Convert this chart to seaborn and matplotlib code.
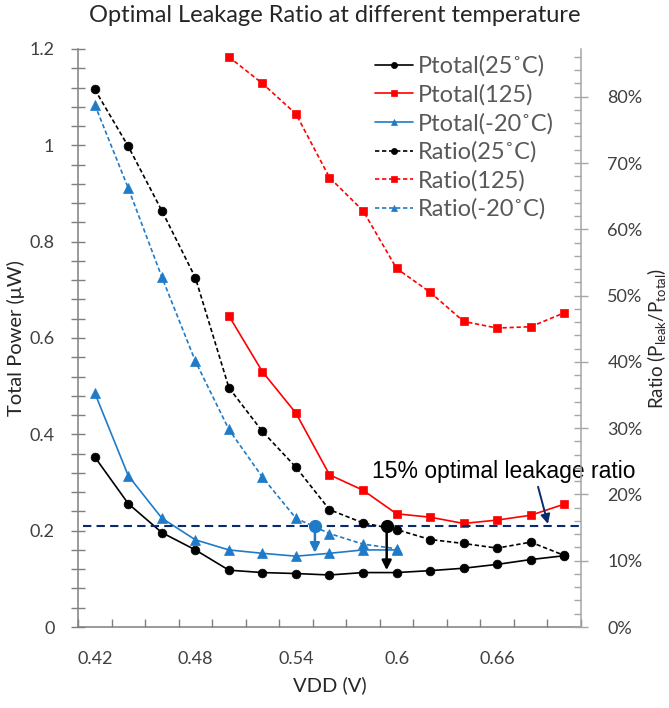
import numpy as np
import pandas as pd
import matplotlib
matplotlib.use("Agg")
import matplotlib.pyplot as plt
import seaborn as sns
from matplotlib.ticker import MultipleLocator, FuncFormatter

# ---------------- data ----------------
vdd = [0.42, 0.44, 0.46, 0.48, 0.50, 0.52, 0.54, 0.56, 0.58, 0.60, 0.62, 0.64, 0.66, 0.68, 0.70]
vdd_125 = [0.50, 0.52, 0.54, 0.56, 0.58, 0.60, 0.62, 0.64, 0.66, 0.68, 0.70]
vdd_m20 = [0.42, 0.44, 0.46, 0.48, 0.50, 0.52, 0.54, 0.56, 0.58, 0.60]

ptotal_25 = [0.353, 0.256, 0.196, 0.160, 0.118, 0.113, 0.111, 0.108, 0.113, 0.113, 0.117, 0.122, 0.130, 0.140, 0.148]
ptotal_125 = [0.646, 0.530, 0.444, 0.316, 0.284, 0.235, 0.228, 0.215, 0.222, 0.232, 0.255]
ptotal_m20 = [0.486, 0.314, 0.226, 0.181, 0.160, 0.153, 0.147, 0.153, 0.160, 0.160]

ratio_25 = [0.811, 0.725, 0.628, 0.527, 0.361, 0.295, 0.241, 0.177, 0.157, 0.147, 0.132, 0.126, 0.119, 0.128, 0.108]
ratio_125 = [0.860, 0.820, 0.774, 0.678, 0.628, 0.541, 0.505, 0.461, 0.451, 0.453, 0.474]
ratio_m20 = [0.788, 0.662, 0.528, 0.401, 0.298, 0.226, 0.164, 0.141, 0.125, 0.118]

x_tick_vals = [0.42, 0.48, 0.54, 0.60, 0.66]
x_tick_labels = ["0.42", "0.48", "0.54", "0.6", "0.66"]

optimal_level = 0.21           # Total power level of the 15% line
optimal_vdd = [0.5513, 0.5941]  # blue (-20C) and black (25C) optimum points
optimal_power = [0.154, 0.118]  # arrow tips

# ---------------- style ----------------
sns.set_theme(style="white")
plt.rcParams["font.family"] = ["Lato", "DejaVu Sans"]

BLACK = "#000000"
RED = "#FF0000"
BLUE = "#1F7BC8"
NAVY = "#0B2A6B"
TXT = "#262626"
TICK = "#404040"

fig = plt.figure(figsize=(6.69, 7.08), dpi=100)
ax = fig.add_axes([78 / 669, 1 - 627 / 708, (581 - 78) / 669, (627 - 49) / 708])
ax2 = ax.twinx()

lw = 1.2
ms_c = 6.3
ms_s = 6.4
ms_t = 6.6
dash = (0, (2.6, 1.6))

def draw(axis, x, y, color, marker, ms, ls, label):
    sns.lineplot(x=x, y=y, ax=axis, color=color, marker=marker, markersize=ms,
                 markeredgecolor=color, markerfacecolor=color, markeredgewidth=0.5,
                 linewidth=lw, linestyle=ls, label=label, errorbar=None,
                 legend=False, sort=False)

draw(ax, vdd, ptotal_25, BLACK, "o", ms_c, "-", "Ptotal(25˚C)")
draw(ax, vdd_125, ptotal_125, RED, "s", ms_s, "-", "Ptotal(125)")
draw(ax, vdd_m20, ptotal_m20, BLUE, "^", ms_t, "-", "Ptotal(-20˚C)")
draw(ax2, vdd, ratio_25, BLACK, "o", ms_c, dash, "Ratio(25˚C)")
draw(ax2, vdd_125, ratio_125, RED, "s", ms_s, dash, "Ratio(125)")
draw(ax2, vdd_m20, ratio_m20, BLUE, "^", ms_t, dash, "Ratio(-20˚C)")

for a in (ax, ax2):
    lg = a.get_legend()
    if lg is not None:
        lg.remove()

# ---------------- axes ----------------
ax.set_xlim(0.41, 0.71)
ax.set_ylim(0, 1.2)
ax2.set_ylim(0, 0.872)

ax.set_xticks(x_tick_vals)
ax.set_xticklabels(x_tick_labels)
ax.set_xticks(np.arange(0.41, 0.7101, 0.02), minor=True)
ax.tick_params(axis="x", which="major", length=0, pad=17, labelsize=13, labelcolor=TICK)
ax.tick_params(axis="x", which="minor", direction="in", length=6, width=1, color="#7f7f7f", bottom=True)

ax.yaxis.set_major_locator(MultipleLocator(0.2))
ax.yaxis.set_minor_locator(MultipleLocator(0.04))
ax.yaxis.set_major_formatter(FuncFormatter(lambda v, p: f"{v:g}"))
ax.tick_params(axis="y", which="both", direction="inout", length=10, width=1, color="#7f7f7f", left=True)
ax.tick_params(axis="y", which="major", pad=12, labelsize=13, labelcolor=TICK)

ax2.yaxis.set_major_locator(MultipleLocator(0.1))
ax2.yaxis.set_minor_locator(MultipleLocator(0.02))
ax2.yaxis.set_major_formatter(FuncFormatter(lambda v, p: f"{v*100:.0f}%" if v <= 0.805 else ""))
ax2.tick_params(axis="y", which="major", direction="inout", length=10, width=1, color="#a6a6a6",
                pad=14, labelsize=13, labelcolor=TICK, right=True)
ax2.tick_params(axis="y", which="minor", direction="in", length=5, width=1, color="#a6a6a6", right=True)

for s in ("top", "right"):
    ax.spines[s].set_visible(False)
for s in ("top", "left", "bottom"):
    ax2.spines[s].set_visible(False)
ax.spines["left"].set_color("#7f7f7f")
ax.spines["bottom"].set_color("#7f7f7f")
ax2.spines["right"].set_color("#a6a6a6")
for sp in (ax.spines["left"], ax.spines["bottom"], ax2.spines["right"]):
    sp.set_linewidth(1.1)
ax.grid(False)
ax2.grid(False)

ax.set_xlabel("VDD (V)", fontsize=14.5, color=TXT)
ax.xaxis.set_label_coords(0.5, -0.086)
ax.set_ylabel("Total Power (μW)", fontsize=14.5, color=TXT)
ax.yaxis.set_label_coords(-0.106, 0.5)
ax2.set_ylabel(r"Ratio (P$_{\mathregular{leak}}$/P$_{\mathregular{total}}$)", fontsize=13.5, color=TXT)
ax2.yaxis.set_label_coords(1.128, 0.5)

fig.suptitle("Optimal Leakage Ratio at different temperature", x=0.5, y=0.993,
             fontsize=17, color=TXT, va="top")

# ---------------- annotations ----------------
ax.plot([0.413, 0.7095], [optimal_level, optimal_level], color=NAVY, lw=1.5,
        linestyle=(0, (4, 2.5)), zorder=4)
ax.text(0.5854, 0.323, "15% optimal leakage ratio", fontsize=16.5, color=BLACK,
        family=["Liberation Sans", "DejaVu Sans"], va="center", ha="left", zorder=6,
        clip_on=False)
ax.annotate("", xy=(0.6903, 0.214), xytext=(0.6844, 0.291),
            arrowprops=dict(arrowstyle="-|>", color=NAVY, lw=1.4, mutation_scale=14,
                            shrinkA=0, shrinkB=0), zorder=6)

for xv, tip, col in zip(optimal_vdd, optimal_power, [BLUE, BLACK]):
    ax.plot([xv], [optimal_level], marker="o", markersize=8.5, color=col, zorder=7)
    ax.annotate("", xy=(xv, tip), xytext=(xv, optimal_level),
                arrowprops=dict(arrowstyle="-|>", color=col, lw=1.8, mutation_scale=14,
                                shrinkA=0, shrinkB=0), zorder=7)

# ---------------- legend ----------------
h1, l1 = ax.get_legend_handles_labels()
h2, l2 = ax2.get_legend_handles_labels()
handles = h1 + h2
leg = ax2.legend(handles, [h.get_label() for h in handles], loc="upper left",
                 bbox_to_anchor=(0.572, 1.005), frameon=False,
                 handlelength=1.6, handletextpad=0.2, labelspacing=0.30,
                 borderaxespad=0, markerscale=0.7,
                 prop={"family": ["Lato", "DejaVu Sans"], "size": 17})
for t in leg.get_texts():
    t.set_color("#595959")

fig.savefig("out.png", dpi=100)
